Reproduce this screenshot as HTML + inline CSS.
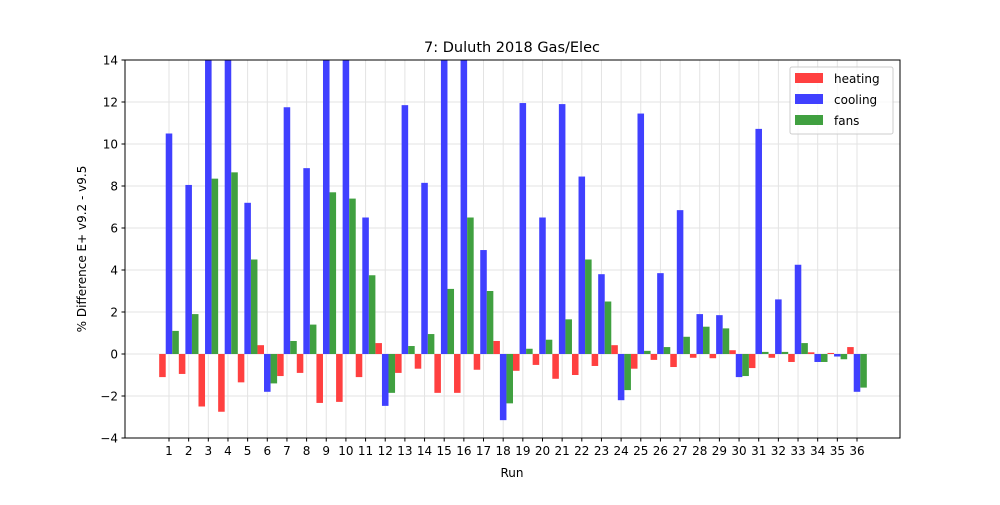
<!DOCTYPE html>
<html><head><meta charset="utf-8"><style>
body{margin:0;background:#fff;font-family:"Liberation Sans","DejaVu Sans",sans-serif}
svg text{font-family:"DejaVu Sans","Liberation Sans",sans-serif;fill:#000}
</style></head><body>
<svg id="c" width="1000" height="500" xmlns="http://www.w3.org/2000/svg">
<defs><clipPath id="pc"><rect x="125" y="60" width="775" height="378"/></clipPath></defs>
<rect width="1000" height="500" fill="#fff"/>
<g id="grid"></g>
<g id="bars" clip-path="url(#pc)"></g>
<rect x="125" y="60" width="775" height="378" fill="none" stroke="#000" stroke-width="1"/>
<g id="axes"></g>
<text x="512" y="52" font-size="14.5" text-anchor="middle">7: Duluth 2018 Gas/Elec</text>
<text x="512" y="477" font-size="12" text-anchor="middle">Run</text>
<text transform="translate(86,249) rotate(-90)" font-size="12" text-anchor="middle">% Difference E+ v9.2 - v9.5</text>
<g>
<rect x="790" y="67" width="103" height="67" fill="#fff" fill-opacity="0.8" stroke="#ccc" rx="2"/>
<g><rect x="795" y="73" width="28" height="10" fill="#ff4040"/><text x="834" y="83" font-size="12">heating</text></g>
<g><rect x="795" y="94" width="28" height="10" fill="#4040ff"/><text x="834" y="104" font-size="12">cooling</text></g>
<g><rect x="795" y="115" width="28" height="10" fill="#40a040"/><text x="834" y="125" font-size="12">fans</text></g>
</g>
</svg>
<script>
const runs=[1,2,3,4,5,6,7,8,9,10,11,12,13,14,15,16,17,18,19,20,21,22,23,24,25,26,27,28,29,30,31,32,33,34,35,36];
const heating=[-1.1,-0.95,-2.5,-2.75,-1.35,0.42,-1.05,-0.9,-2.33,-2.28,-1.1,0.52,-0.9,-0.7,-1.85,-1.85,-0.75,0.62,-0.8,-0.52,-1.18,-1.0,-0.57,0.42,-0.7,-0.28,-0.62,-0.18,-0.2,0.18,-0.67,-0.18,-0.38,0.08,0.05,0.33];
const cooling=[10.5,8.05,16,16,7.2,-1.8,11.75,8.85,16,16,6.5,-2.47,11.85,8.15,16,16,4.95,-3.15,11.95,6.5,11.9,8.45,3.8,-2.2,11.45,3.85,6.85,1.9,1.85,-1.1,10.72,2.6,4.25,-0.38,-0.12,-1.8];
const fans=[1.1,1.9,8.35,8.65,4.5,-1.4,0.62,1.4,7.7,7.4,3.75,-1.85,0.38,0.95,3.1,6.5,3.0,-2.35,0.25,0.68,1.65,4.5,2.5,-1.72,0.15,0.33,0.82,1.3,1.22,-1.05,0.1,0.1,0.52,-0.38,-0.25,-1.6];
const yTicks=[-4,-2,0,2,4,6,8,10,12,14];
const NS="http://www.w3.org/2000/svg";
const X=r=>169+(r-1)*(857-169)/35;
const Y=v=>354-v*21;
const bw=6.55;
function mk(t,a,p){const e=document.createElementNS(NS,t);for(const k in a)e.setAttribute(k,a[k]);p.appendChild(e);return e;}
const grid=document.getElementById('grid'),axes=document.getElementById('axes'),bars=document.getElementById('bars');
yTicks.forEach(v=>{
 const g=mk('line',{x1:125,x2:900,y1:Y(v),y2:Y(v),stroke:'#e3e3e3','stroke-width':1},grid);
 
 
 mk('line',{x1:121.5,x2:125,y1:Y(v),y2:Y(v),stroke:'#000'},axes);
 const t=mk('text',{x:118,y:Y(v)+4.5,'font-size':12,'text-anchor':'end'},axes);
 t.textContent=String(v).replace('-','\u2212');
 
 
});
runs.forEach(r=>{
 const g=mk('line',{x1:X(r),x2:X(r),y1:60,y2:438,stroke:'#e3e3e3','stroke-width':1},grid);
 
 
 mk('line',{x1:X(r),x2:X(r),y1:438,y2:441.5,stroke:'#000'},axes);
 const t=mk('text',{x:X(r),y:455,'font-size':12,'text-anchor':'middle'},axes);
 t.textContent=r;
 
 
});
const series=[[heating,'#ff4040',-1,'heating'],[cooling,'#4040ff',0,'cooling'],[fans,'#40a040',1,'fans']];
series.forEach(([vals,col,off,nm])=>{
 vals.forEach((v,i)=>{
  const cx=X(runs[i])+off*bw;
  const y0=Y(0),y1=Y(v);
  const b=mk('rect',{x:cx-bw/2,y:Math.min(y0,y1),width:bw,height:Math.abs(y1-y0),fill:col},bars);
  
  
 });
});
</script>
</body></html>
